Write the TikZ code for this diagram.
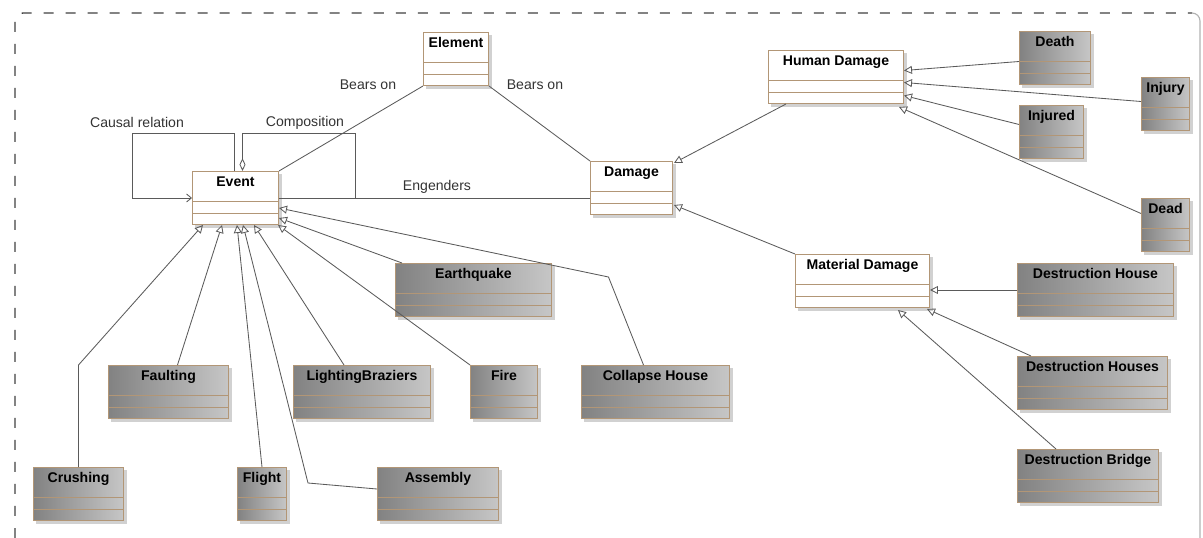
\documentclass[tikz,border=0pt]{standalone}
\usepackage{fontspec}
\setmainfont{Liberation Sans}
\usepackage{tikz}
\usetikzlibrary{positioning,arrows.meta,shadows,calc}

\definecolor{classedge}{RGB}{178,150,118}
\definecolor{gdark}{RGB}{130,130,130}
\definecolor{glight}{RGB}{198,198,198}
\definecolor{linkgray}{RGB}{90,90,90}

\begin{document}
\begin{tikzpicture}[x=0.025cm, y=-0.025cm,
    font=\fontsize{10}{12}\selectfont,
    classbox/.style={draw=classedge, line width=0.7pt, anchor=north west,
      inner xsep=0pt, inner ysep=0pt, minimum width=#1*0.025cm,
      text height=10.7pt, text depth=27pt,
      font=\fontsize{10}{12}\selectfont\bfseries,
      drop shadow={shadow xshift=0.07cm, shadow yshift=-0.07cm, fill=black!18, draw=black!18, opacity=1},
      path picture={
        \draw[classedge, line width=0.7pt] ([yshift=0.2875cm]path picture bounding box.south west) -- ([yshift=0.2875cm]path picture bounding box.south east);
        \draw[classedge, line width=0.7pt] ([yshift=0.575cm]path picture bounding box.south west) -- ([yshift=0.575cm]path picture bounding box.south east);
      }},
    parent/.style={classbox=#1, fill=white},
    child/.style={classbox=#1, left color=gdark, right color=glight},
    assoc/.style={draw=linkgray, line width=0.6pt},
    gen/.style={assoc, -{Triangle[open, length=0.2cm, width=0.2cm]}},
    lbl/.style={inner sep=0pt, text=black!80},
    frame/.style={draw=black!75, line width=1pt, dash pattern=on 0.25cm off 0.3cm, rounded corners=0.2cm},
    frameside/.style={draw=black!30, line width=0.8pt, rounded corners=0.2cm}]

  \useasboundingbox (0,0) rectangle (1203,538);
  \draw[frame] (15,538) |- (1192,13);
  \draw[frameside] (1192,13) -| (1200,538);

  \node[parent=65] (element) at (423,32) {Element};
  \node[parent=86] (event) at (192,171) {Event};
  \node[parent=82] (damage) at (590,161) {Damage};
  \node[parent=135] (humdmg) at (768,50) {Human Damage};
  \node[parent=134] (matdmg) at (795,254) {Material Damage};

  \node[child=71] (death) at (1019,31) {Death};
  \node[child=48] (injury) at (1141,77) {Injury};
  \node[child=64] (injured) at (1019,105) {Injured};
  \node[child=48] (dead) at (1141,198) {Dead};
  \node[child=156] (dhouse) at (1017,263) {Destruction House};
  \node[child=150] (dhouses) at (1017,356) {Destruction Houses};
  \node[child=141] (dbridge) at (1017,449) {Destruction Bridge};

  \node[child=156] (earthquake) at (395,263) {Earthquake};
  \node[child=148] (collapse) at (581,365) {Collapse House};
  \node[child=120] (faulting) at (108,365) {Faulting};
  \node[child=137] (lighting) at (293,365) {LightingBraziers};
  \node[child=67] (fire) at (470,365) {Fire};
  \node[child=90] (crushing) at (33,467) {Crushing};
  \node[child=49] (flight) at (237,467) {Flight};
  \node[child=121] (assembly) at (377,467) {Assembly};

  \node[lbl] (causallbl) at (137,122) {Causal relation};
  \node[lbl] (complbl) at (305,123) {Composition};
  \node[lbl] (bearsleft) at (368,85) {Bears on};
  \node[lbl] (bearsright) at (535,85) {Bears on};
  \node[lbl] (engenders) at (437,187) {Engenders};

  \draw[assoc] (element.south west) -- (event.north east);
  \draw[assoc] (element.south east) -- (damage.north west);
  \draw[assoc] (event.east) -- (event.east -| damage.west);
  \draw[assoc, -{Straight Barb[length=0.12cm, width=0.2cm]}] ($(event.north)+(-1,0)$) -- ++(0,-38) -| ($(event.west)+(-60,0)$) -- (event.west);
  \draw[assoc, {Diamond[open, length=0.32cm, width=0.15cm]}-] ($(event.north)+(7,0)$) -- ++(0,-38) -| ($(event.east)+(76,0)$) -- (event.east);

  \draw[gen] ($(humdmg.south west)+(18,0)$) -- ($(damage.north east)+(1,2)$);
  \draw[gen] (matdmg.north west) -- ($(damage.south east)+(1,-10)$);
  \draw[gen] ($(death.west)+(0,3.5)$) -- ($(humdmg.east)+(0,-6.5)$);
  \draw[gen] ($(injury.west)+(0,-2.5)$) -- ($(humdmg.east)+(0,5.5)$);
  \draw[gen] ($(injured.west)+(0,-7.5)$) -- ($(humdmg.east)+(0,18.5)$);
  \draw[gen] ($(dead.west)+(0,-11.5)$) -- ($(humdmg.south east)+(-5,3)$);
  \draw[gen] (dhouse.west) -- (dhouse.west -| matdmg.east);
  \draw[gen] ($(dhouses.north west)+(14,0)$) -- ($(matdmg.south east)+(-3,1)$);
  \draw[gen] ($(dbridge.north west)+(39,0)$) -- ($(matdmg.south east)+(-32,2)$);

  \draw[gen] (crushing.north) -- ++(0,-102) -- ($(event.south west)+(11,0)$);
  \draw[gen] ($(faulting.north)+(9,0)$) -- ($(event.south west)+(30,0)$);
  \draw[gen] (flight.north) -- ($(event.south west)+(45,0)$);
  \draw[gen] ($(assembly.west)+(0,-5)$) -- ++(-69,-6) -- ($(event.south west)+(51,0)$);
  \draw[gen] ($(lighting.north)+(-18,0)$) -- ($(event.south west)+(62,0)$);
  \draw[gen] (fire.north west) -- ($(event.south east)+(-1,0)$);
  \draw[gen] ($(earthquake.north west)+(7,0)$) -- ($(event.east)+(0,20)$);
  \draw[gen] ($(collapse.north)+(-12,0)$) -- ++(-35,-88) -- ($(event.east)+(0,10)$);
\end{tikzpicture}
\end{document}
